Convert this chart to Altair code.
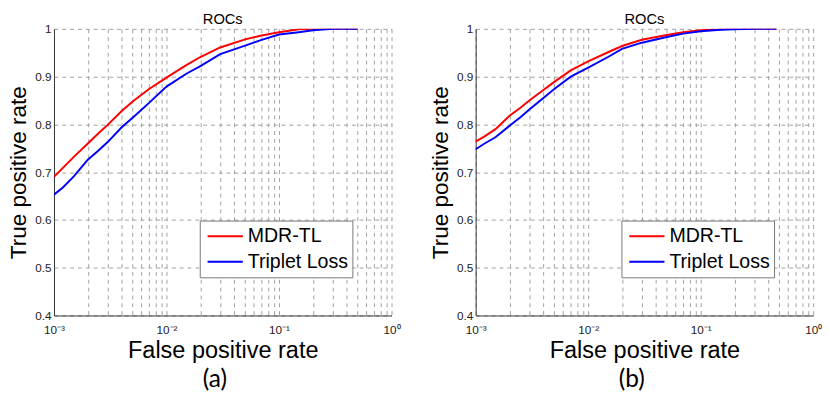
import altair as alt
import pandas as pd

series_names = ["MDR-TL", "Triplet Loss"]
series_colors = ["#ff0000", "#0000ff"]

fpr_a = [0.001, 0.0012, 0.0015, 0.002, 0.0025, 0.003, 0.004, 0.005, 0.007, 0.01, 0.015,
         0.02, 0.03, 0.05, 0.07, 0.1, 0.15, 0.2, 0.3, 0.5]
mdr_a = [0.690, 0.709, 0.732, 0.760, 0.782, 0.799, 0.828, 0.848, 0.874, 0.898, 0.924,
         0.941, 0.961, 0.978, 0.986, 0.993, 0.999, 1.0, 1.0, 1.0]
trip_a = [0.653, 0.668, 0.691, 0.726, 0.746, 0.763, 0.794, 0.814, 0.845, 0.879, 0.906,
          0.922, 0.947, 0.965, 0.977, 0.988, 0.993, 0.997, 1.0, 1.0]

fpr_b = [0.001, 0.0012, 0.0015, 0.002, 0.0025, 0.003, 0.004, 0.005, 0.007, 0.01, 0.015,
         0.02, 0.03, 0.05, 0.07, 0.1, 0.15, 0.2, 0.3, 0.47]
mdr_b = [0.764, 0.775, 0.790, 0.818, 0.835, 0.850, 0.872, 0.889, 0.913, 0.932, 0.951,
         0.964, 0.977, 0.987, 0.993, 0.997, 0.999, 1.0, 1.0, 1.0]
trip_b = [0.748, 0.760, 0.773, 0.797, 0.815, 0.831, 0.855, 0.874, 0.900, 0.919, 0.941,
          0.958, 0.971, 0.983, 0.990, 0.995, 0.998, 0.999, 1.0, 1.0]

x_grid = [m * 10.0 ** e for e in (-3, -2, -1) for m in range(1, 10)] + [1.0]
x_grid = [round(v, 6) for v in x_grid]
y_ticks = [0.4, 0.5, 0.6, 0.7, 0.8, 0.9, 1.0]

W, H = 345, 293
FONT = "Liberation Sans"

x_label_expr = ("datum.value == 0.001 ? '10⁻³' : datum.value == 0.01 ? '10⁻²' : "
                "datum.value == 0.1 ? '10⁻¹' : datum.value == 1 ? '10⁰' : ''")


def panel(fpr, mdr, trip, tag, tag_dx):
    df = pd.DataFrame({
        "fpr": fpr + fpr,
        "tpr": mdr + trip,
        "series": [series_names[0]] * len(fpr) + [series_names[1]] * len(fpr),
    })
    lines = alt.Chart(df).mark_line(strokeWidth=2, clip=True).encode(
        x=alt.X("fpr:Q",
                scale=alt.Scale(type="log", domain=[0.001, 1], nice=False),
                axis=alt.Axis(values=x_grid, labelExpr=x_label_expr,
                              title="False positive rate", labelOverlap=False,
                              labelFlush=False)),
        y=alt.Y("tpr:Q",
                scale=alt.Scale(domain=[0.4, 1], nice=False, zero=False),
                axis=alt.Axis(values=y_ticks, format=".1~f",
                              title="True positive rate", labelFlush=False,
                              titleFontSize=23)),
        color=alt.Color("series:N",
                        scale=alt.Scale(domain=series_names, range=series_colors),
                        legend=alt.Legend(orient="none", legendX=149, legendY=196,
                                          title=None, fillColor="white",
                                          strokeColor="#777777", padding=4,
                                          symbolOffset=3,
                                          symbolType="stroke", symbolSize=1296,
                                          symbolStrokeWidth=2, labelFontSize=20,
                                          labelFont=FONT, labelColor="black",
                                          labelOffset=4, clipHeight=24,
                                          rowPadding=2)),
        order=alt.Order("fpr:Q"),
    )
    tag_df = pd.DataFrame({"t": [tag]})
    tag_text = alt.Chart(tag_df).mark_text(
        font="Lato", fontSize=25, baseline="middle", align="center", dx=tag_dx,
        color="black"
    ).encode(x=alt.value(W / 2), y=alt.value(H + 65), text="t:N")
    return alt.layer(lines, tag_text).properties(
        width=W, height=H,
        title=alt.Title("ROCs", font=FONT, fontSize=15, fontWeight="normal",
                        offset=-4, color="black"),
    )


left = panel(fpr_a, mdr_a, trip_a, "(a)", -8)
right = panel(fpr_b, mdr_b, trip_b, "(b)", -13)

chart = alt.hconcat(left, right, spacing=30).resolve_scale(
    color="independent").resolve_legend(color="independent").properties(
    padding={"left": 0, "top": 0, "right": 0, "bottom": 0}
).configure_view(stroke=None).configure_axis(
    grid=True, gridDash=[4, 4], gridColor="#a0a0a0", gridOpacity=1, gridWidth=1,
    domainColor="#333333", domainWidth=1, ticks=False,
    labelFont=FONT, labelFontSize=12, labelColor="#222222", labelPadding=3,
    titleFont=FONT, titleFontSize=24, titleFontWeight="normal", titleColor="black",
).configure_axisY(titlePadding=4).configure_axisX(titlePadding=4, labelPadding=9)

chart.save("out.html", embed_options={"renderer": "svg", "actions": False})
